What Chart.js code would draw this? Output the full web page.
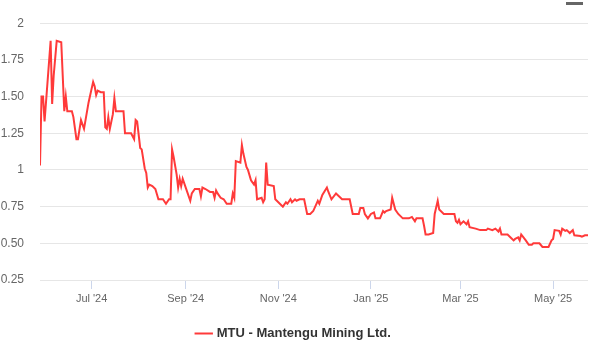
<!DOCTYPE html>
<html lang="en">
<head>
    <meta charset="UTF-8">
    <title>MTU - Mantengu Mining Ltd.</title>
    <script src="https://cdn.jsdelivr.net/npm/chart.js"></script>
    <style>
        body {
            margin: 0;
            background: #fff;
            font-family: Arial, "Liberation Sans", sans-serif;
        }
        #wrap {
            position: relative;
            width: 599px;
            height: 344px;
        }
        /* export menu button, mostly clipped at the top edge */
        #menu-btn {
            position: absolute;
            left: 566px;
            top: 2px;
            width: 17px;
            height: 3px;
            background: #666;
        }
    </style>
</head>
<body>
    <div id="wrap">
        <canvas id="price-chart"></canvas>
        <div id="menu-btn"></div>
    </div>

    <script>
        // Daily closing prices
        const dates = [
            '2024-05-28', '2024-05-29', '2024-05-30', '2024-05-31', '2024-06-04', '2024-06-05', '2024-06-06', '2024-06-08',
            '2024-06-11', '2024-06-13', '2024-06-14', '2024-06-15', '2024-06-18', '2024-06-19', '2024-06-21', '2024-06-22',
            '2024-06-24', '2024-06-26', '2024-06-29', '2024-07-02', '2024-07-03', '2024-07-04', '2024-07-05', '2024-07-07',
            '2024-07-09', '2024-07-10', '2024-07-11', '2024-07-12', '2024-07-13', '2024-07-15', '2024-07-16', '2024-07-17',
            '2024-07-22', '2024-07-23', '2024-07-27', '2024-07-29', '2024-07-30', '2024-07-31', '2024-08-02', '2024-08-03',
            '2024-08-05', '2024-08-06', '2024-08-07', '2024-08-08', '2024-08-10', '2024-08-12', '2024-08-14', '2024-08-15',
            '2024-08-17', '2024-08-19', '2024-08-21', '2024-08-22', '2024-08-23', '2024-08-24', '2024-08-26', '2024-08-27',
            '2024-08-28', '2024-08-29', '2024-08-30', '2024-09-01', '2024-09-04', '2024-09-05', '2024-09-07', '2024-09-10',
            '2024-09-11', '2024-09-12', '2024-09-14', '2024-09-17', '2024-09-19', '2024-09-20', '2024-09-21', '2024-09-22',
            '2024-09-24', '2024-09-26', '2024-09-28', '2024-10-01', '2024-10-02', '2024-10-03', '2024-10-04', '2024-10-07',
            '2024-10-08', '2024-10-09', '2024-10-11', '2024-10-12', '2024-10-14', '2024-10-16', '2024-10-17', '2024-10-18',
            '2024-10-21', '2024-10-22', '2024-10-23', '2024-10-24', '2024-10-25', '2024-10-29', '2024-10-30', '2024-11-02',
            '2024-11-04', '2024-11-06', '2024-11-07', '2024-11-09', '2024-11-10', '2024-11-12', '2024-11-13', '2024-11-15',
            '2024-11-18', '2024-11-20', '2024-11-22', '2024-11-24', '2024-11-27', '2024-11-28', '2024-11-30', '2024-12-03',
            '2024-12-04', '2024-12-06', '2024-12-09', '2024-12-13', '2024-12-18', '2024-12-20', '2024-12-24', '2024-12-25',
            '2024-12-27', '2024-12-28', '2024-12-30', '2025-01-01', '2025-01-03', '2025-01-04', '2025-01-07', '2025-01-09',
            '2025-01-10', '2025-01-11', '2025-01-14', '2025-01-15', '2025-01-17', '2025-01-19', '2025-01-22', '2025-01-24',
            '2025-01-26', '2025-01-28', '2025-01-30', '2025-01-31', '2025-02-04', '2025-02-05', '2025-02-06', '2025-02-08',
            '2025-02-11', '2025-02-12', '2025-02-14', '2025-02-15', '2025-02-18', '2025-02-25', '2025-02-26', '2025-02-27',
            '2025-02-28', '2025-03-01', '2025-03-03', '2025-03-05', '2025-03-06', '2025-03-07', '2025-03-11', '2025-03-14',
            '2025-03-18', '2025-03-19', '2025-03-22', '2025-03-24', '2025-03-26', '2025-03-27', '2025-03-28', '2025-04-01',
            '2025-04-03', '2025-04-05', '2025-04-06', '2025-04-08', '2025-04-09', '2025-04-10', '2025-04-13', '2025-04-15',
            '2025-04-17', '2025-04-18', '2025-04-22', '2025-04-24', '2025-04-28', '2025-04-30', '2025-05-01', '2025-05-02',
            '2025-05-05', '2025-05-06', '2025-05-07', '2025-05-09', '2025-05-10', '2025-05-12', '2025-05-14', '2025-05-15',
            '2025-05-19', '2025-05-20', '2025-05-22', '2025-05-24'
        ];

        const prices = [
            1.03, 1.50, 1.50, 1.33, 1.88, 1.45, 1.64, 1.88,
            1.87, 1.40, 1.50, 1.40, 1.40, 1.36, 1.21, 1.21,
            1.34, 1.28, 1.46, 1.60, 1.57, 1.51, 1.54, 1.53,
            1.53, 1.29, 1.28, 1.36, 1.28, 1.38, 1.49, 1.40,
            1.40, 1.25, 1.25, 1.21, 1.34, 1.33, 1.15, 1.14,
            1.01, 0.98, 0.88, 0.90, 0.89, 0.87, 0.80, 0.80,
            0.80, 0.77, 0.80, 0.80, 1.14, 1.09, 0.97, 0.88,
            0.94, 0.89, 0.94, 0.88, 0.79, 0.84, 0.87, 0.87,
            0.82, 0.88, 0.87, 0.85, 0.85, 0.81, 0.86, 0.84,
            0.81, 0.80, 0.77, 0.77, 0.84, 0.81, 1.06, 1.05,
            1.17, 1.11, 1.02, 1.00, 0.93, 0.90, 0.93, 0.80,
            0.81, 0.78, 0.80, 1.05, 0.90, 0.89, 0.80, 0.77,
            0.75, 0.78, 0.77, 0.80, 0.78, 0.80, 0.79, 0.80,
            0.80, 0.70, 0.70, 0.72, 0.79, 0.77, 0.83, 0.88,
            0.85, 0.80, 0.84, 0.80, 0.80, 0.70, 0.70, 0.74,
            0.74, 0.70, 0.67, 0.70, 0.71, 0.67, 0.67, 0.72,
            0.71, 0.72, 0.73, 0.81, 0.73, 0.70, 0.67, 0.67,
            0.67, 0.68, 0.65, 0.67, 0.67, 0.62, 0.56, 0.56,
            0.57, 0.70, 0.79, 0.73, 0.70, 0.70, 0.65, 0.64,
            0.66, 0.63, 0.65, 0.63, 0.65, 0.61, 0.60, 0.59,
            0.59, 0.60, 0.59, 0.60, 0.58, 0.60, 0.56, 0.56,
            0.54, 0.52, 0.53, 0.54, 0.52, 0.56, 0.52, 0.49,
            0.49, 0.50, 0.50, 0.475, 0.475, 0.52, 0.53, 0.59,
            0.585, 0.56, 0.60, 0.585, 0.59, 0.57, 0.59, 0.555,
            0.55, 0.545, 0.555, 0.555
        ];

        // Axis labels
        const monthTickDates = ['2024-07-01', '2024-09-01', '2024-11-01', '2025-01-01', '2025-03-01', '2025-05-01'];
        const monthTickLabels = ["Jul '24", "Sep '24", "Nov '24", "Jan '25", "Mar '25", "May '25"];
        const priceTicks = [0.25, 0.5, 0.75, 1, 1.25, 1.5, 1.75, 2];
        const priceTickLabels = ['0.25', '0.50', '0.75', '1', '1.25', '1.50', '1.75', '2'];

        const seriesName = 'MTU - Mantengu Mining Ltd.';

        // days since epoch, so the x axis stays linear without a date adapter
        function dayNum(s) {
            const [y, m, d] = s.split('-').map(Number);
            return Date.UTC(y, m - 1, d) / 86400000;
        }

        const points = dates.map((d, i) => ({ x: dayNum(d), y: prices[i] }));

        Chart.defaults.font.family = 'Arial, "Liberation Sans", Helvetica, sans-serif';

        const canvas = document.getElementById('price-chart');
        canvas.width = 599;
        canvas.height = 344;

        new Chart(canvas, {
            type: 'line',
            data: {
                datasets: [{
                    label: seriesName,
                    data: points,
                    borderColor: '#ff3a3a',
                    backgroundColor: '#ff3a3a',
                    borderWidth: 2,
                    pointRadius: 0,
                    tension: 0,
                    fill: false
                }]
            },
            options: {
                responsive: false,
                animation: false,
                layout: {
                    padding: { top: 23, right: 11, left: 0, bottom: -6 }
                },
                scales: {
                    x: {
                        type: 'linear',
                        min: dayNum(dates[0]),
                        max: dayNum(dates[dates.length - 1]),
                        afterBuildTicks: scale => {
                            scale.ticks = monthTickDates.map(d => ({ value: dayNum(d) }));
                        },
                        afterFit: scale => { scale.height = 45; },
                        grid: {
                            drawOnChartArea: false,
                            drawTicks: true,
                            tickLength: 9,
                            color: '#ccd6eb'
                        },
                        border: { display: false },
                        ticks: {
                            autoSkip: false,
                            maxRotation: 0,
                            padding: 3,
                            color: '#666',
                            font: { size: 11 },
                            callback: (value, index) => monthTickLabels[index]
                        }
                    },
                    y: {
                        min: 0.25,
                        max: 2,
                        afterBuildTicks: scale => {
                            scale.ticks = priceTicks.map(v => ({ value: v }));
                        },
                        afterFit: scale => { scale.width = 40; },
                        grid: {
                            drawTicks: false,
                            color: '#e6e6e6'
                        },
                        border: { display: false },
                        ticks: {
                            padding: 16,
                            color: '#666',
                            font: { size: 12 },
                            callback: (value, index) => priceTickLabels[index]
                        }
                    }
                },
                plugins: {
                    tooltip: { enabled: false },
                    legend: {
                        position: 'bottom',
                        labels: {
                            usePointStyle: true,
                            pointStyle: 'line',
                            boxWidth: 15,
                            padding: 2,
                            color: '#333',
                            font: { size: 13, weight: 'bold' }
                        }
                    }
                }
            }
        });
    </script>
</body>
</html>
